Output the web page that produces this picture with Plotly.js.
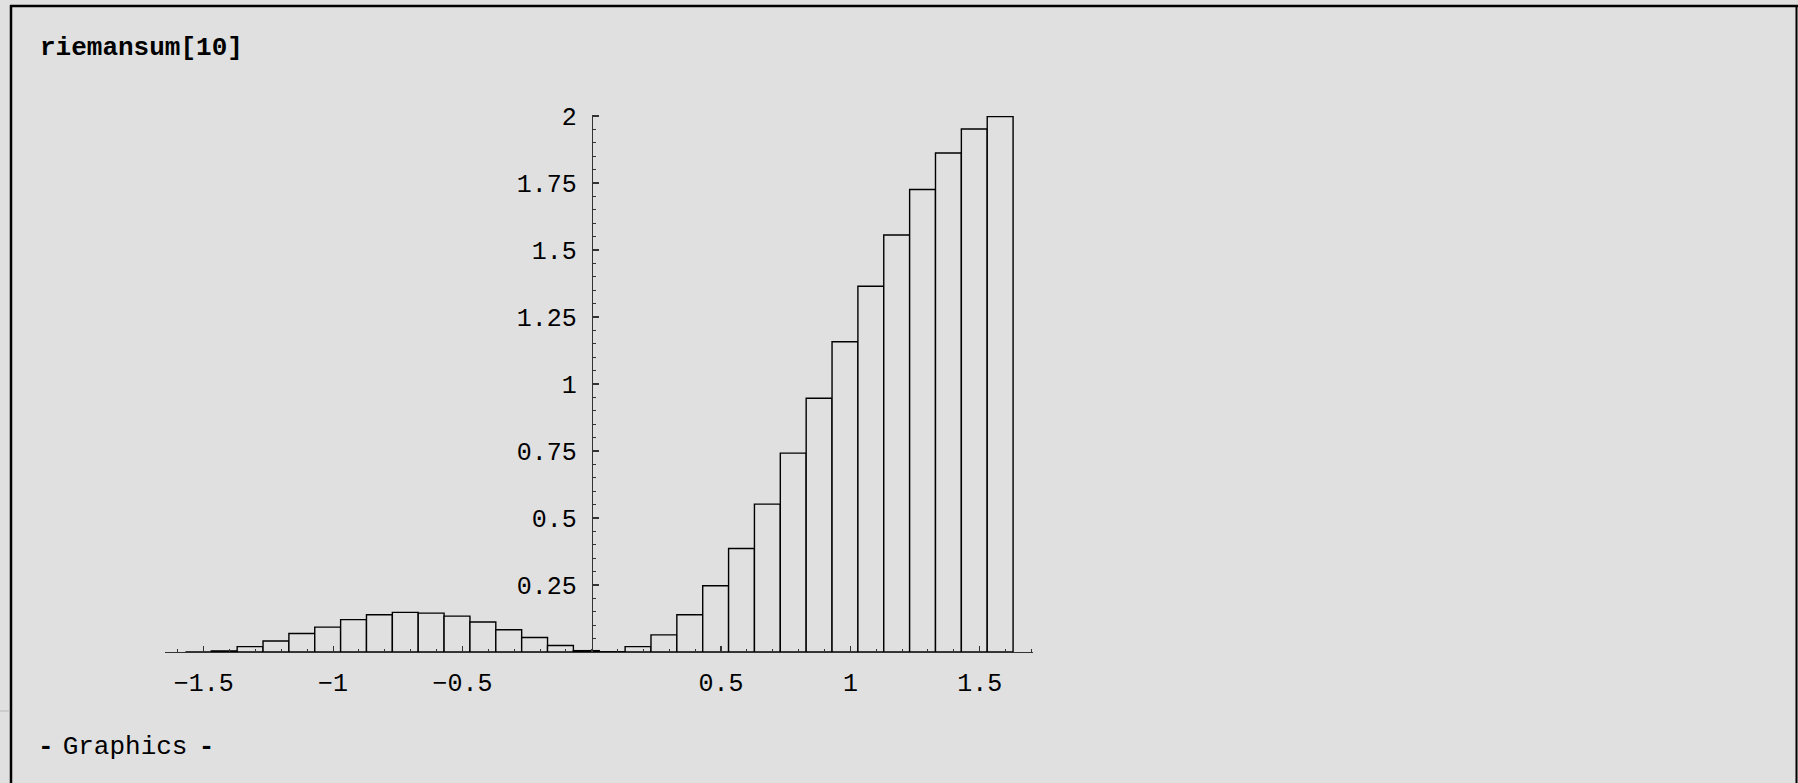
<!DOCTYPE html>
<html>
<head>
<meta charset="utf-8">
<script src="https://cdn.plot.ly/plotly-3.0.1.min.js"></script>
<style>
  html, body { margin: 0; padding: 0; background: #e0e0e0; }
  #chart { width: 1798px; height: 783px; }
</style>
</head>
<body>
<div id="chart"></div>
<script>
// Left endpoints of the Riemann-sum rectangles (width 0.1)
const barLeft = [
  -1.571, -1.471, -1.371, -1.271, -1.171, -1.071, -0.971, -0.871,
  -0.771, -0.671, -0.571, -0.471, -0.371, -0.271, -0.171, -0.071,
   0.029,  0.129,  0.229,  0.329,  0.429,  0.529,  0.629,  0.729,
   0.829,  0.929,  1.029,  1.129,  1.229,  1.329,  1.429,  1.529
];
const barWidth = 0.1;
// Rectangle heights
const barHeight = [
  0.000, 0.004, 0.020, 0.041, 0.069, 0.093, 0.121, 0.139,
  0.148, 0.145, 0.134, 0.112, 0.083, 0.054, 0.024, 0.005,
  0.001, 0.020, 0.064, 0.139, 0.247, 0.386, 0.552, 0.742,
  0.947, 1.158, 1.365, 1.556, 1.726, 1.862, 1.952, 1.998
];
const xTickVals = [-1.5, -1, -0.5, 0.5, 1, 1.5];
const xTickText = ["\u22121.5", "\u22121", "\u22120.5", "0.5", "1", "1.5"];
const yTickVals = [0.25, 0.5, 0.75, 1, 1.25, 1.5, 1.75, 2];
const yTickText = ["0.25", "0.5", "0.75", "1", "1.25", "1.5", "1.75", "2"];
const cellTitle = "riemansum[10]";
const cellOutput = "Graphics";

const W = 1798, H = 783;
const M = { l: 165, r: 765, t: 115, b: 131 };
const plotW = W - M.l - M.r, plotH = H - M.t - M.b;
const fx = px => (px - M.l) / plotW;
const fy = py => (H - M.b - py) / plotH;

const xRange = [-1.650, 1.706];
const yRange = [0, 2.004];
const bg = '#e0e0e0';
const mono = 'Liberation Mono, Courier New, monospace';

const trace = {
  type: 'bar',
  x: barLeft.map(v => v + barWidth / 2),
  y: barHeight,
  width: barLeft.map(() => barWidth),
  marker: { color: bg, line: { color: '#000', width: 1.4 } },
  hoverinfo: 'skip'
};

const dash = "<b>-</b>";
const gap1 = "<span style='font-size:15px'> </span>";
const gap2 = "<span style='font-size:19px'> </span>";

const layout = {
  width: W, height: H,
  margin: M,
  paper_bgcolor: bg,
  plot_bgcolor: bg,
  showlegend: false,
  title: {
    text: '<b>' + cellTitle + '</b>',
    xref: 'container', yref: 'container',
    x: 40 / W, xanchor: 'left',
    y: 1 - 46 / H, yanchor: 'middle',
    font: { family: mono, size: 26, color: '#000' }
  },
  xaxis: {
    range: xRange,
    showgrid: false, zeroline: false,
    showline: true, linecolor: '#333', linewidth: 1.3,
    tickmode: 'array', tickvals: xTickVals, ticktext: xTickText,
    ticks: 'inside', ticklen: 6, tickwidth: 1.2, tickcolor: '#333',
    minor: { tickmode: 'linear', tick0: 0, dtick: 0.1, ticks: 'inside', ticklen: 3, tickwidth: 1, tickcolor: '#333' },
    ticklabelstandoff: 8,
    tickfont: { family: mono, size: 25, color: '#000' },
    fixedrange: true
  },
  yaxis: {
    range: yRange,
    anchor: 'free',
    position: (0 - xRange[0]) / (xRange[1] - xRange[0]),
    side: 'left',
    showgrid: false, zeroline: false,
    showline: true, linecolor: '#333', linewidth: 1.3,
    tickmode: 'array', tickvals: yTickVals, ticktext: yTickText,
    ticks: 'inside', ticklen: 6, tickwidth: 1.2, tickcolor: '#333',
    minor: { tickmode: 'linear', tick0: 0, dtick: 0.05, ticks: 'inside', ticklen: 3, tickwidth: 1, tickcolor: '#333' },
    ticklabelstandoff: 10,
    tickfont: { family: mono, size: 25, color: '#000' },
    fixedrange: true
  },
  annotations: [{
    xref: 'paper', yref: 'paper',
    x: fx(36), y: fy(747), xanchor: 'left', yanchor: 'middle',
    text: dash + gap1 + cellOutput + gap2 + dash,
    showarrow: false,
    font: { family: mono, size: 26, color: '#000' }
  }],
  shapes: [
    { type: 'line', xref: 'paper', yref: 'paper', x0: fx(10), x1: fx(1798), y0: fy(6), y1: fy(6), line: { color: '#000', width: 2.5 } },
    { type: 'line', xref: 'paper', yref: 'paper', x0: fx(11), x1: fx(11), y0: fy(5), y1: fy(783), line: { color: '#000', width: 2.5 } },
    { type: 'line', xref: 'paper', yref: 'paper', x0: fx(1796.5), x1: fx(1796.5), y0: fy(5), y1: fy(783), line: { color: '#000', width: 2 } },
    { type: 'line', xref: 'paper', yref: 'paper', x0: fx(0), x1: fx(10), y0: fy(711), y1: fy(711), line: { color: '#b8b8b8', width: 1 } }
  ]
};

Plotly.newPlot('chart', [trace], layout, { staticPlot: true, displayModeBar: false });
</script>
</body>
</html>
